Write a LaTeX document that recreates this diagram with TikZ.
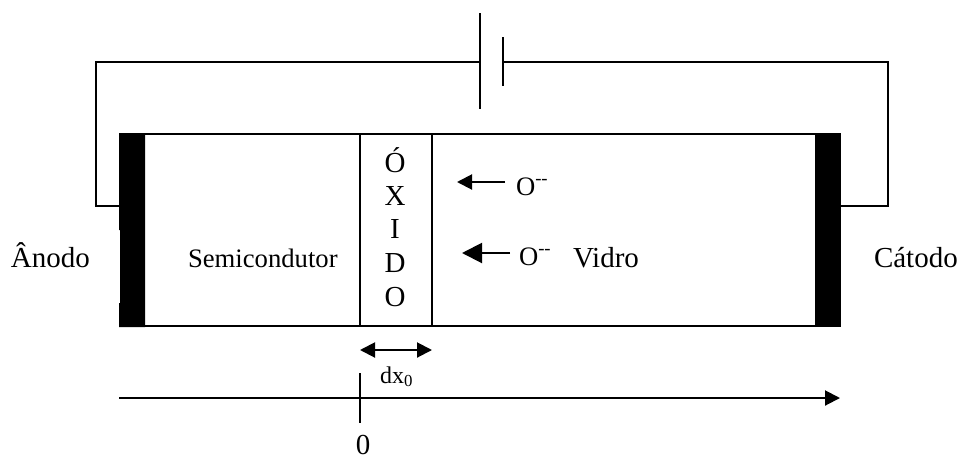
\documentclass[tikz,border=0pt]{standalone}
\usepackage{fontspec}
\setmainfont{Liberation Serif}
\usetikzlibrary{arrows.meta}
\begin{document}
\begin{tikzpicture}[x=0.75pt,y=0.75pt,yscale=-1,xscale=1,line width=1.5pt,
	rotulo/.style={anchor=base west,inner sep=0pt,font=\fontsize{21.75}{24}\selectfont},
	menor/.style={anchor=base west,inner sep=0pt,font=\fontsize{20}{24}\selectfont},
	letra/.style={anchor=base,inner sep=0pt,font=\fontsize{21.75}{24}\selectfont},
	seta/.style={-{Triangle[length=11.25pt,width=11.25pt]}},
	setagrande/.style={-{Triangle[length=15pt,width=15pt]}},
	setadupla/.style={{Triangle[length=11.25pt,width=11.25pt]}-{Triangle[length=11.25pt,width=11.25pt]}}]
	\useasboundingbox (0,0) rectangle (959,461);
	%Vidro, semicondutor
	\draw (145,134) -- (815,134);
	\draw (145,326) -- (815,326);
	\draw (360,134) -- (360,326);
	\draw (432,134) -- (432,326);
	%Eletrodos
	\fill (119,133) -- (145,133) -- (145,327) -- (119,327) -- (119,303) -- (120,303) -- (120,230) -- (119,230) -- cycle;
	\fill (815,133) rectangle (841,327);
	%Bateria
	\coordinate (pa) at (480,62);
	\coordinate (pc) at (503,62);
	\coordinate (ea) at (119,206);
	\coordinate (ec) at (841,206);
	\draw (480,13) -- (480,109);
	\draw (503,37) -- (503,86);
	\draw (pa) -- (96,62) -- (96,206) -- (ea);
	\draw (pc) -- (888,62) -- (888,206) -- (ec);
	%Textos
	\node [rotulo] (anodo) at (10,267) {Ânodo};
	\node [rotulo] (catodo) at (873,267) {Cátodo};
	\node [menor] (semi) at (187,267) {Semicondutor};
	\node [rotulo] (vidro) at (572,267) {Vidro};
	\node [letra] (l1) at (395,172) {Ó};
	\node [letra] (l2) at (395,205) {X};
	\node [letra] (l3) at (395,238) {I};
	\node [letra] (l4) at (395,272) {D};
	\node [letra] (l5) at (395,306) {O};
	\node [menor] (ion1) at (515,195) {O\textsuperscript{-{}-}};
	\node [menor] (ion2) at (518,265) {O\textsuperscript{-{}-}};
	\coordinate (f1) at (457,182);
	\coordinate (f2) at (462,253);
	\draw [seta] (505,182) -- (f1);
	\draw [setagrande] (510,253) -- (f2);
	%Espessura
	\coordinate (d1) at (360,350);
	\coordinate (d2) at (432,350);
	\draw [setadupla] (d1) -- (d2);
	\node [anchor=base west,inner sep=0pt,font=\fontsize{18}{20}\selectfont] (dx) at (379,383) {dx\textsubscript{0}};
	%Eixo
	\coordinate (e1) at (119,398);
	\coordinate (e2) at (840,398);
	\draw [seta] (e1) -- (e2);
	\draw (360,373) -- (360,423);
	\node [letra] (zero) at (363,454) {0};
\end{tikzpicture}
\end{document}
